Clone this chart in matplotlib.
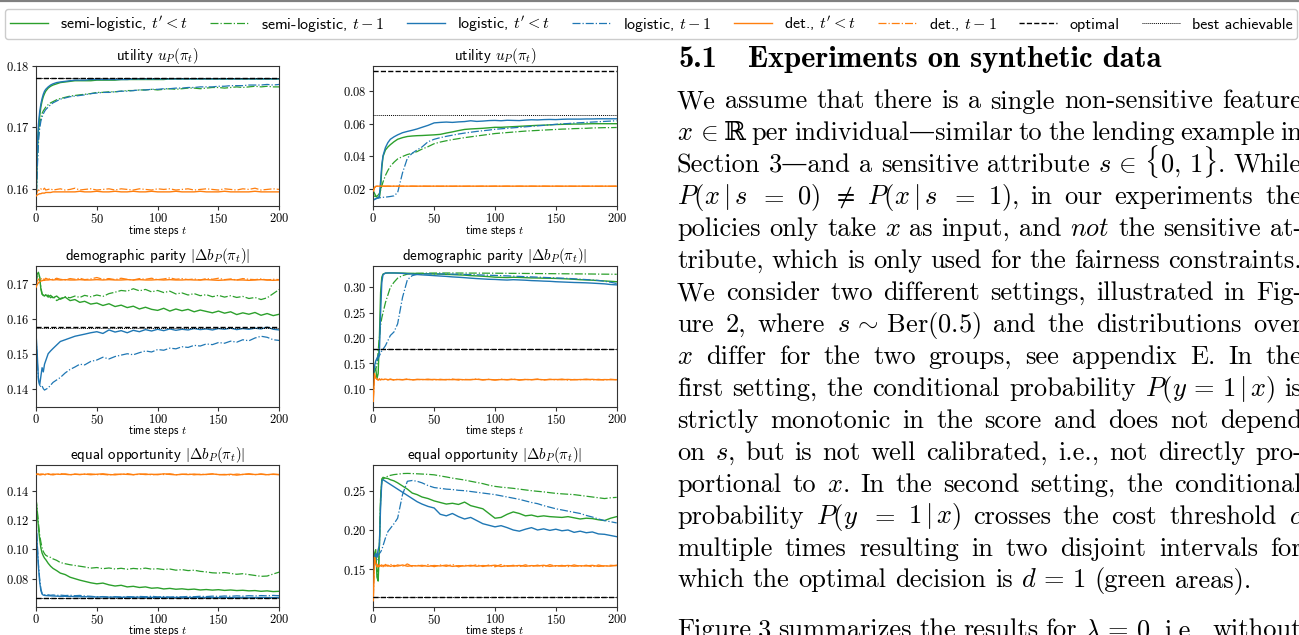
import matplotlib
matplotlib.use("Agg")
import matplotlib.pyplot as plt
import matplotlib.ticker as mticker
from matplotlib.transforms import IdentityTransform
from matplotlib.lines import Line2D

plt.rcParams["mathtext.fontset"] = "cm"
plt.rcParams["axes.formatter.use_mathtext"] = True
plt.rcParams["font.family"] = ["cmss10", "DejaVu Sans"]

# ---------------- data ----------------
T = [0, 1, 2, 3, 4, 5, 6, 7, 8, 10, 12, 14, 17, 20, 24, 28, 32, 36, 40,
     45, 50, 55, 60, 65, 70, 75, 80, 85, 90, 95, 100, 105, 110, 115, 120,
     125, 130, 135, 140, 145, 150, 155, 160, 165, 170, 175, 180, 185, 190,
     195, 200]

LABELS = [r"semi-logistic, $t' < t$", r"semi-logistic, $t-1$",
          r"logistic, $t' < t$", r"logistic, $t-1$",
          r"det., $t' < t$", r"det., $t-1$", "optimal", "best achievable"]

TITLES = [r"utility $u_P(\pi_t)$", r"utility $u_P(\pi_t)$",
          r"demographic parity $|\Delta b_P(\pi_t)|$", r"demographic parity $|\Delta b_P(\pi_t)|$",
          r"equal opportunity $|\Delta b_P(\pi_t)|$", r"equal opportunity $|\Delta b_P(\pi_t)|$"]
XLABEL = "time steps $t$"
XTICKS = [0, 50, 100, 150, 200]

# --- panel A: utility, setting 1
A_semi_cum = [0.1572, 0.1655, 0.1695, 0.1718, 0.1733, 0.1743, 0.1750, 0.1755, 0.1759, 0.1764,
              0.1767, 0.1769, 0.1771, 0.1773, 0.1774, 0.1775, 0.1776, 0.1776, 0.1776,
              0.1776, 0.1777, 0.1777, 0.1777, 0.1777, 0.1778, 0.1778, 0.1778,
              0.1778, 0.1778, 0.1778, 0.1778, 0.1778, 0.1779, 0.1779, 0.1779,
              0.1779, 0.1779, 0.1779, 0.1779, 0.1779, 0.1779, 0.1779, 0.1779,
              0.1779, 0.1779, 0.1779, 0.1779, 0.1779, 0.1779, 0.1779, 0.1779]
A_semi_last = [0.1572, 0.1640, 0.1685, 0.1705, 0.1716, 0.1723, 0.1727, 0.1730, 0.1733, 0.1737,
               0.1740, 0.1742, 0.1745, 0.1747, 0.1749, 0.1751, 0.1752, 0.1753, 0.1754,
               0.1755, 0.1757, 0.1757, 0.1758, 0.1758, 0.1759, 0.1760, 0.1760,
               0.1761, 0.1761, 0.1762, 0.1761, 0.1762, 0.1763, 0.1762, 0.1763,
               0.1764, 0.1764, 0.1763, 0.1764, 0.1765, 0.1765, 0.1764, 0.1765,
               0.1766, 0.1765, 0.1766, 0.1767, 0.1766, 0.1767, 0.1766, 0.1766]
A_log_cum = [0.1572, 0.1668, 0.1705, 0.1725, 0.1738, 0.1747, 0.1754, 0.1759, 0.1762, 0.1766,
             0.1769, 0.1771, 0.1773, 0.1774, 0.1775, 0.1776, 0.1777, 0.1777, 0.1777,
             0.1778, 0.1778, 0.1778, 0.1778, 0.1778, 0.1778, 0.1778, 0.1779,
             0.1779, 0.1779, 0.1779, 0.1779, 0.1779, 0.1779, 0.1779, 0.1779,
             0.1779, 0.1779, 0.1779, 0.1779, 0.1779, 0.1779, 0.1779, 0.1779,
             0.1779, 0.1779, 0.1779, 0.1779, 0.1779, 0.1779, 0.1779, 0.1779]
A_log_last = [0.1572, 0.1630, 0.1675, 0.1698, 0.1710, 0.1717, 0.1722, 0.1726, 0.1729, 0.1733,
              0.1737, 0.1740, 0.1743, 0.1746, 0.1748, 0.1750, 0.1751, 0.1752, 0.1753,
              0.1755, 0.1756, 0.1757, 0.1757, 0.1758, 0.1759, 0.1759, 0.1760,
              0.1761, 0.1761, 0.1762, 0.1762, 0.1763, 0.1763, 0.1764, 0.1764,
              0.1765, 0.1765, 0.1766, 0.1766, 0.1766, 0.1767, 0.1767, 0.1768,
              0.1768, 0.1768, 0.1769, 0.1769, 0.1769, 0.1770, 0.1769, 0.1770]
A_det_cum = [0.1588, 0.1590, 0.1591, 0.1592, 0.1592, 0.1593, 0.1593, 0.1593, 0.1594, 0.1594,
             0.1594, 0.1595, 0.1595, 0.1595, 0.1595, 0.1595, 0.1595, 0.1596, 0.1595,
             0.1595, 0.1596, 0.1595, 0.1595, 0.1596, 0.1595, 0.1595, 0.1596,
             0.1595, 0.1595, 0.1596, 0.1595, 0.1595, 0.1595, 0.1596, 0.1595,
             0.1595, 0.1595, 0.1596, 0.1595, 0.1595, 0.1595, 0.1596, 0.1595,
             0.1595, 0.1595, 0.1595, 0.1596, 0.1595, 0.1595, 0.1595, 0.1595]
A_det_last = [0.1588, 0.1596, 0.1598, 0.1597, 0.1600, 0.1598, 0.1599, 0.1601, 0.1598, 0.1599,
              0.1600, 0.1598, 0.1599, 0.1600, 0.1598, 0.1599, 0.1601, 0.1598, 0.1599,
              0.1600, 0.1598, 0.1599, 0.1600, 0.1598, 0.1600, 0.1599, 0.1598,
              0.1600, 0.1599, 0.1598, 0.1600, 0.1599, 0.1600, 0.1598, 0.1599,
              0.1600, 0.1598, 0.1599, 0.1600, 0.1599, 0.1598, 0.1600, 0.1599,
              0.1598, 0.1600, 0.1599, 0.1601, 0.1598, 0.1599, 0.1600, 0.1599]
A_opt = 0.1781
A_best = 0.1781

# --- panel B: utility, setting 2
B_semi_cum = [0.0190, 0.0175, 0.0160, 0.0152, 0.0148, 0.0150, 0.0200, 0.0330, 0.0400, 0.0440,
              0.0458, 0.0472, 0.0490, 0.0505, 0.0515, 0.0522, 0.0525, 0.0527, 0.0528,
              0.0530, 0.0532, 0.0535, 0.0543, 0.0550, 0.0558, 0.0565, 0.0568,
              0.0570, 0.0572, 0.0575, 0.0578, 0.0578, 0.0580, 0.0582, 0.0584,
              0.0586, 0.0588, 0.0590, 0.0591, 0.0593, 0.0595, 0.0596, 0.0597,
              0.0598, 0.0598, 0.0599, 0.0600, 0.0600, 0.0600, 0.0600, 0.0600]
B_semi_last = [0.0160, 0.0158, 0.0155, 0.0158, 0.0165, 0.0175, 0.0195, 0.0220, 0.0245, 0.0285,
               0.0315, 0.0340, 0.0365, 0.0385, 0.0400, 0.0412, 0.0420, 0.0430, 0.0445,
               0.0460, 0.0478, 0.0488, 0.0496, 0.0503, 0.0509, 0.0515, 0.0520,
               0.0525, 0.0530, 0.0535, 0.0540, 0.0543, 0.0546, 0.0549, 0.0552,
               0.0555, 0.0557, 0.0559, 0.0561, 0.0563, 0.0565, 0.0567, 0.0568,
               0.0570, 0.0571, 0.0572, 0.0574, 0.0575, 0.0576, 0.0576, 0.0577]
B_log_cum = [0.0135, 0.0138, 0.0142, 0.0145, 0.0148, 0.0160, 0.0250, 0.0350, 0.0405, 0.0455,
             0.0485, 0.0505, 0.0520, 0.0532, 0.0545, 0.0553, 0.0560, 0.0568, 0.0578,
             0.0590, 0.0605, 0.0608, 0.0610, 0.0608, 0.0611, 0.0613, 0.0618,
             0.0614, 0.0616, 0.0619, 0.0620, 0.0618, 0.0621, 0.0620, 0.0619,
             0.0622, 0.0624, 0.0623, 0.0625, 0.0626, 0.0625, 0.0627, 0.0628,
             0.0628, 0.0628, 0.0629, 0.0629, 0.0630, 0.0630, 0.0630, 0.0630]
B_log_last = [0.0135, 0.0138, 0.0142, 0.0145, 0.0147, 0.0148, 0.0149, 0.0150, 0.0151, 0.0152,
              0.0154, 0.0156, 0.0160, 0.0180, 0.0300, 0.0390, 0.0420, 0.0440, 0.0458,
              0.0490, 0.0505, 0.0515, 0.0523, 0.0530, 0.0537, 0.0543, 0.0548,
              0.0553, 0.0557, 0.0561, 0.0566, 0.0569, 0.0572, 0.0575, 0.0578,
              0.0581, 0.0584, 0.0587, 0.0590, 0.0593, 0.0596, 0.0599, 0.0601,
              0.0604, 0.0606, 0.0608, 0.0610, 0.0612, 0.0614, 0.0616, 0.0618]
B_det_cum = [0.0190, 0.0212, 0.0218, 0.0219, 0.0219, 0.0219, 0.0219, 0.0219, 0.0219, 0.0219,
             0.0219, 0.0219, 0.0219, 0.0219, 0.0219, 0.0219, 0.0219, 0.0219, 0.0219,
             0.0219, 0.0219, 0.0219, 0.0219, 0.0219, 0.0219, 0.0219, 0.0219,
             0.0219, 0.0219, 0.0219, 0.0219, 0.0219, 0.0219, 0.0219, 0.0219,
             0.0219, 0.0219, 0.0219, 0.0219, 0.0219, 0.0219, 0.0219, 0.0219,
             0.0219, 0.0219, 0.0219, 0.0219, 0.0219, 0.0219, 0.0219, 0.0219]
B_det_last = [0.0185, 0.0208, 0.0217, 0.0218, 0.0219, 0.0218, 0.0219, 0.0218, 0.0219, 0.0218,
              0.0219, 0.0218, 0.0219, 0.0218, 0.0219, 0.0218, 0.0219, 0.0218, 0.0219,
              0.0218, 0.0219, 0.0218, 0.0219, 0.0218, 0.0219, 0.0218, 0.0219,
              0.0218, 0.0219, 0.0218, 0.0219, 0.0218, 0.0219, 0.0218, 0.0219,
              0.0218, 0.0219, 0.0218, 0.0219, 0.0218, 0.0219, 0.0218, 0.0219,
              0.0218, 0.0219, 0.0218, 0.0219, 0.0218, 0.0219, 0.0218, 0.0219]
B_opt = 0.0924
B_best = 0.0651

# --- panel C: demographic parity, setting 1
C_semi_cum = [0.1700, 0.1728, 0.1733, 0.1720, 0.1685, 0.1670, 0.1668, 0.1665, 0.1669, 0.1662,
              0.1667, 0.1660, 0.1665, 0.1656, 0.1662, 0.1652, 0.1655, 0.1647, 0.1650,
              0.1642, 0.1645, 0.1638, 0.1643, 0.1635, 0.1639, 0.1632, 0.1636,
              0.1628, 0.1633, 0.1627, 0.1624, 0.1630, 0.1622, 0.1628, 0.1623,
              0.1627, 0.1620, 0.1625, 0.1621, 0.1617, 0.1622, 0.1616, 0.1620,
              0.1612, 0.1617, 0.1613, 0.1618, 0.1610, 0.1615, 0.1609, 0.1613]
C_semi_last = [0.1700, 0.1725, 0.1730, 0.1718, 0.1690, 0.1672, 0.1666, 0.1670, 0.1663, 0.1668,
               0.1660, 0.1665, 0.1652, 0.1658, 0.1663, 0.1660, 0.1665, 0.1661, 0.1667,
               0.1663, 0.1668, 0.1664, 0.1672, 0.1676, 0.1681, 0.1679, 0.1686,
               0.1680, 0.1684, 0.1677, 0.1681, 0.1675, 0.1679, 0.1671, 0.1674,
               0.1668, 0.1672, 0.1666, 0.1669, 0.1663, 0.1667, 0.1662, 0.1666,
               0.1661, 0.1664, 0.1658, 0.1661, 0.1655, 0.1660, 0.1672, 0.1684]
C_log_cum = [0.1560, 0.1500, 0.1425, 0.1410, 0.1435, 0.1460, 0.1448, 0.1470, 0.1480, 0.1500,
             0.1508, 0.1515, 0.1525, 0.1535, 0.1540, 0.1545, 0.1550, 0.1553, 0.1556,
             0.1560, 0.1563, 0.1558, 0.1568, 0.1562, 0.1566, 0.1560, 0.1567,
             0.1563, 0.1569, 0.1565, 0.1570, 0.1566, 0.1571, 0.1567, 0.1570,
             0.1568, 0.1572, 0.1569, 0.1571, 0.1568, 0.1572, 0.1570, 0.1573,
             0.1569, 0.1572, 0.1570, 0.1573, 0.1571, 0.1576, 0.1570, 0.1568]
C_log_last = [0.1550, 0.1480, 0.1430, 0.1412, 0.1405, 0.1408, 0.1400, 0.1396, 0.1398, 0.1402,
              0.1410, 0.1418, 0.1425, 0.1432, 0.1445, 0.1455, 0.1462, 0.1470, 0.1468,
              0.1478, 0.1482, 0.1490, 0.1485, 0.1492, 0.1496, 0.1500, 0.1497,
              0.1503, 0.1508, 0.1505, 0.1512, 0.1510, 0.1516, 0.1514, 0.1520,
              0.1518, 0.1524, 0.1522, 0.1528, 0.1526, 0.1532, 0.1530, 0.1536,
              0.1533, 0.1540, 0.1537, 0.1545, 0.1550, 0.1547, 0.1540, 0.1538]
C_det_cum = [0.1690, 0.1698, 0.1703, 0.1706, 0.1708, 0.1709, 0.1710, 0.1710, 0.1711, 0.1711,
             0.1712, 0.1711, 0.1712, 0.1711, 0.1712, 0.1711, 0.1711, 0.1712, 0.1711,
             0.1711, 0.1712, 0.1711, 0.1712, 0.1711, 0.1711, 0.1712, 0.1711,
             0.1712, 0.1711, 0.1711, 0.1712, 0.1711, 0.1712, 0.1711, 0.1711,
             0.1712, 0.1711, 0.1711, 0.1712, 0.1711, 0.1710, 0.1711, 0.1712,
             0.1711, 0.1711, 0.1710, 0.1711, 0.1712, 0.1711, 0.1710, 0.1711]
C_det_last = [0.1695, 0.1708, 0.1712, 0.1716, 0.1713, 0.1717, 0.1714, 0.1712, 0.1716, 0.1713,
              0.1715, 0.1712, 0.1716, 0.1713, 0.1711, 0.1715, 0.1713, 0.1716, 0.1712,
              0.1714, 0.1718, 0.1713, 0.1715, 0.1712, 0.1716, 0.1713, 0.1711,
              0.1715, 0.1713, 0.1716, 0.1712, 0.1714, 0.1717, 0.1713, 0.1715,
              0.1712, 0.1714, 0.1711, 0.1715, 0.1713, 0.1716, 0.1712, 0.1714,
              0.1711, 0.1715, 0.1713, 0.1712, 0.1714, 0.1711, 0.1713, 0.1712]
C_opt = 0.1576
C_best = 0.1575

# --- panel D: demographic parity, setting 2
D_semi_cum = [0.1300, 0.1350, 0.1400, 0.1200, 0.1300, 0.2000, 0.2900, 0.3200, 0.3260, 0.3280,
              0.3282, 0.3283, 0.3283, 0.3282, 0.3280, 0.3277, 0.3275, 0.3272, 0.3270,
              0.3267, 0.3263, 0.3260, 0.3255, 0.3250, 0.3245, 0.3240, 0.3230,
              0.3225, 0.3218, 0.3210, 0.3200, 0.3195, 0.3192, 0.3198, 0.3195,
              0.3190, 0.3185, 0.3183, 0.3180, 0.3178, 0.3175, 0.3170, 0.3165,
              0.3158, 0.3150, 0.3145, 0.3140, 0.3132, 0.3125, 0.3118, 0.3110]
D_semi_last = [0.1300, 0.1350, 0.1400, 0.1450, 0.1750, 0.2000, 0.2250, 0.2400, 0.2500, 0.2700,
               0.2850, 0.3000, 0.3100, 0.3180, 0.3230, 0.3260, 0.3270, 0.3276, 0.3278,
               0.3280, 0.3281, 0.3282, 0.3282, 0.3282, 0.3281, 0.3281, 0.3280,
               0.3280, 0.3279, 0.3278, 0.3278, 0.3277, 0.3276, 0.3275, 0.3274,
               0.3273, 0.3272, 0.3271, 0.3270, 0.3269, 0.3268, 0.3267, 0.3266,
               0.3265, 0.3264, 0.3263, 0.3262, 0.3260, 0.3259, 0.3258, 0.3257]
D_log_cum = [0.1300, 0.1450, 0.1550, 0.1600, 0.1650, 0.1700, 0.2500, 0.3100, 0.3250, 0.3280,
             0.3283, 0.3283, 0.3282, 0.3280, 0.3275, 0.3268, 0.3260, 0.3252, 0.3245,
             0.3238, 0.3230, 0.3222, 0.3215, 0.3205, 0.3198, 0.3190, 0.3180,
             0.3172, 0.3165, 0.3158, 0.3155, 0.3148, 0.3143, 0.3150, 0.3145,
             0.3140, 0.3132, 0.3128, 0.3122, 0.3118, 0.3110, 0.3105, 0.3100,
             0.3095, 0.3092, 0.3088, 0.3082, 0.3075, 0.3068, 0.3055, 0.3048]
D_log_last = [0.1300, 0.1400, 0.1500, 0.1550, 0.1600, 0.1650, 0.1700, 0.1750, 0.1780, 0.1850,
              0.1950, 0.2050, 0.2120, 0.2280, 0.2800, 0.3150, 0.3230, 0.3255, 0.3262,
              0.3265, 0.3265, 0.3264, 0.3262, 0.3260, 0.3257, 0.3254, 0.3250,
              0.3246, 0.3242, 0.3238, 0.3234, 0.3230, 0.3225, 0.3220, 0.3215,
              0.3210, 0.3205, 0.3200, 0.3195, 0.3190, 0.3185, 0.3180, 0.3175,
              0.3168, 0.3160, 0.3152, 0.3143, 0.3135, 0.3120, 0.3100, 0.3075]
D_det_cum = [0.0750, 0.1300, 0.1210, 0.1185, 0.1175, 0.1182, 0.1178, 0.1186, 0.1180, 0.1190,
             0.1178, 0.1184, 0.1176, 0.1182, 0.1179, 0.1185, 0.1177, 0.1181, 0.1183,
             0.1178, 0.1184, 0.1176, 0.1182, 0.1179, 0.1185, 0.1177, 0.1181,
             0.1186, 0.1178, 0.1183, 0.1175, 0.1181, 0.1179, 0.1184, 0.1176,
             0.1182, 0.1179, 0.1185, 0.1177, 0.1181, 0.1183, 0.1178, 0.1184,
             0.1176, 0.1182, 0.1179, 0.1185, 0.1174, 0.1181, 0.1178, 0.1180]
D_det_last = [0.0800, 0.1260, 0.1215, 0.1195, 0.1170, 0.1198, 0.1175, 0.1190, 0.1172, 0.1195,
              0.1174, 0.1191, 0.1170, 0.1188, 0.1176, 0.1193, 0.1171, 0.1186, 0.1178,
              0.1190, 0.1172, 0.1187, 0.1175, 0.1192, 0.1170, 0.1185, 0.1178,
              0.1193, 0.1173, 0.1186, 0.1171, 0.1189, 0.1176, 0.1192, 0.1170,
              0.1184, 0.1177, 0.1190, 0.1172, 0.1187, 0.1175, 0.1191, 0.1169,
              0.1183, 0.1178, 0.1190, 0.1173, 0.1186, 0.1171, 0.1188, 0.1176]
D_opt = 0.1776
D_best = 0.1776

# --- panel E: equal opportunity, setting 1
E_semi_cum = [0.1350, 0.1250, 0.1150, 0.1070, 0.1010, 0.0975, 0.0955, 0.0940, 0.0930, 0.0905,
              0.0885, 0.0870, 0.0855, 0.0838, 0.0828, 0.0810, 0.0800, 0.0790, 0.0782,
              0.0772, 0.0765, 0.0770, 0.0758, 0.0750, 0.0755, 0.0744, 0.0748,
              0.0740, 0.0744, 0.0735, 0.0738, 0.0730, 0.0734, 0.0728, 0.0731,
              0.0726, 0.0729, 0.0723, 0.0726, 0.0722, 0.0725, 0.0720, 0.0723,
              0.0719, 0.0721, 0.0717, 0.0719, 0.0714, 0.0717, 0.0712, 0.0714]
E_semi_last = [0.1350, 0.1270, 0.1180, 0.1100, 0.1050, 0.1010, 0.0985, 0.0970, 0.0960, 0.0950,
               0.0945, 0.0935, 0.0925, 0.0910, 0.0902, 0.0895, 0.0890, 0.0885, 0.0880,
               0.0872, 0.0876, 0.0868, 0.0873, 0.0866, 0.0871, 0.0864, 0.0870,
               0.0866, 0.0872, 0.0865, 0.0868, 0.0862, 0.0866, 0.0858, 0.0862,
               0.0855, 0.0858, 0.0850, 0.0846, 0.0840, 0.0838, 0.0842, 0.0836,
               0.0830, 0.0834, 0.0828, 0.0822, 0.0816, 0.0818, 0.0832, 0.0845]
E_log_cum = [0.1200, 0.1020, 0.0880, 0.0780, 0.0720, 0.0695, 0.0688, 0.0686, 0.0685, 0.0684,
             0.0683, 0.0682, 0.0681, 0.0680, 0.0680, 0.0679, 0.0678, 0.0677, 0.0677,
             0.0676, 0.0675, 0.0676, 0.0674, 0.0675, 0.0673, 0.0674, 0.0673,
             0.0674, 0.0672, 0.0673, 0.0672, 0.0673, 0.0671, 0.0672, 0.0672,
             0.0671, 0.0672, 0.0671, 0.0672, 0.0671, 0.0671, 0.0672, 0.0671,
             0.0671, 0.0672, 0.0671, 0.0671, 0.0672, 0.0671, 0.0671, 0.0672]
E_log_last = [0.1200, 0.1050, 0.0900, 0.0800, 0.0730, 0.0700, 0.0692, 0.0690, 0.0688, 0.0690,
              0.0687, 0.0689, 0.0686, 0.0688, 0.0685, 0.0687, 0.0684, 0.0686, 0.0682,
              0.0680, 0.0676, 0.0678, 0.0674, 0.0677, 0.0675, 0.0678, 0.0676,
              0.0679, 0.0677, 0.0680, 0.0676, 0.0678, 0.0675, 0.0677, 0.0676,
              0.0679, 0.0677, 0.0680, 0.0678, 0.0681, 0.0679, 0.0682, 0.0680,
              0.0683, 0.0681, 0.0684, 0.0682, 0.0685, 0.0683, 0.0686, 0.0684]
E_det_cum = [0.1510, 0.1515, 0.1511, 0.1508, 0.1514, 0.1510, 0.1513, 0.1509, 0.1512, 0.1515,
             0.1510, 0.1508, 0.1513, 0.1511, 0.1514, 0.1509, 0.1512, 0.1510, 0.1513,
             0.1509, 0.1512, 0.1515, 0.1510, 0.1508, 0.1513, 0.1511, 0.1509,
             0.1514, 0.1510, 0.1512, 0.1509, 0.1515, 0.1511, 0.1508, 0.1512,
             0.1510, 0.1513, 0.1509, 0.1511, 0.1514, 0.1510, 0.1508, 0.1512,
             0.1506, 0.1511, 0.1515, 0.1510, 0.1512, 0.1509, 0.1513, 0.1510]
E_det_last = [0.1512, 0.1509, 0.1514, 0.1511, 0.1507, 0.1513, 0.1510, 0.1515, 0.1508, 0.1512,
              0.1510, 0.1514, 0.1509, 0.1516, 0.1511, 0.1508, 0.1513, 0.1510, 0.1512,
              0.1514, 0.1509, 0.1511, 0.1507, 0.1513, 0.1510, 0.1516, 0.1509,
              0.1511, 0.1514, 0.1508, 0.1512, 0.1510, 0.1515, 0.1509, 0.1511,
              0.1513, 0.1508, 0.1512, 0.1510, 0.1514, 0.1509, 0.1511, 0.1507,
              0.1513, 0.1510, 0.1512, 0.1509, 0.1514, 0.1508, 0.1511, 0.1509]
E_opt = 0.0666
E_best = 0.0666

# --- panel F: equal opportunity, setting 2
F_semi_cum = [0.1500, 0.1700, 0.1750, 0.1400, 0.1350, 0.1800, 0.2400, 0.2650, 0.2670, 0.2660,
              0.2655, 0.2640, 0.2625, 0.2600, 0.2560, 0.2520, 0.2470, 0.2450, 0.2420,
              0.2400, 0.2370, 0.2350, 0.2330, 0.2340, 0.2325, 0.2355, 0.2310,
              0.2290, 0.2270, 0.2210, 0.2150, 0.2160, 0.2200, 0.2230, 0.2210,
              0.2180, 0.2190, 0.2170, 0.2180, 0.2170, 0.2165, 0.2160, 0.2170,
              0.2155, 0.2140, 0.2150, 0.2145, 0.2130, 0.2120, 0.2150, 0.2170]
F_semi_last = [0.1500, 0.1650, 0.1700, 0.1500, 0.1400, 0.1800, 0.2400, 0.2620, 0.2650, 0.2670,
               0.2685, 0.2695, 0.2705, 0.2710, 0.2718, 0.2720, 0.2718, 0.2715, 0.2712,
               0.2708, 0.2702, 0.2688, 0.2675, 0.2660, 0.2648, 0.2636, 0.2620,
               0.2605, 0.2590, 0.2570, 0.2555, 0.2545, 0.2538, 0.2530, 0.2520,
               0.2510, 0.2500, 0.2492, 0.2485, 0.2475, 0.2466, 0.2460, 0.2455,
               0.2450, 0.2440, 0.2430, 0.2420, 0.2410, 0.2400, 0.2410, 0.2415]
F_log_cum = [0.1500, 0.1650, 0.1700, 0.1650, 0.1750, 0.1800, 0.2300, 0.2620, 0.2640, 0.2620,
             0.2600, 0.2580, 0.2550, 0.2520, 0.2480, 0.2440, 0.2400, 0.2360, 0.2330,
             0.2300, 0.2280, 0.2200, 0.2180, 0.2210, 0.2170, 0.2140, 0.2160,
             0.2120, 0.2080, 0.2060, 0.2040, 0.2055, 0.2030, 0.2000, 0.1985,
             0.2010, 0.2030, 0.2000, 0.2015, 0.1995, 0.2010, 0.1990, 0.2000,
             0.1970, 0.1985, 0.1965, 0.1975, 0.1950, 0.1945, 0.1930, 0.1915]
F_log_last = [0.1500, 0.1550, 0.1600, 0.1620, 0.1680, 0.1700, 0.1720, 0.1750, 0.1800, 0.1900,
              0.1980, 0.2020, 0.2080, 0.2150, 0.2450, 0.2620, 0.2630, 0.2620, 0.2600,
              0.2565, 0.2540, 0.2530, 0.2520, 0.2515, 0.2505, 0.2500, 0.2490,
              0.2480, 0.2470, 0.2460, 0.2450, 0.2435, 0.2420, 0.2405, 0.2390,
              0.2370, 0.2350, 0.2335, 0.2310, 0.2290, 0.2270, 0.2255, 0.2240,
              0.2225, 0.2210, 0.2185, 0.2165, 0.2140, 0.2120, 0.2105, 0.2090]
F_det_cum = [0.1100, 0.1650, 0.1580, 0.1530, 0.1545, 0.1535, 0.1548, 0.1538, 0.1550, 0.1542,
             0.1552, 0.1537, 0.1549, 0.1541, 0.1555, 0.1539, 0.1546, 0.1543, 0.1550,
             0.1538, 0.1548, 0.1542, 0.1553, 0.1537, 0.1546, 0.1541, 0.1550,
             0.1539, 0.1547, 0.1543, 0.1552, 0.1536, 0.1545, 0.1541, 0.1549,
             0.1538, 0.1547, 0.1542, 0.1551, 0.1537, 0.1546, 0.1540, 0.1549,
             0.1539, 0.1545, 0.1542, 0.1550, 0.1537, 0.1544, 0.1540, 0.1552]
F_det_last = [0.1150, 0.1600, 0.1555, 0.1565, 0.1530, 0.1560, 0.1535, 0.1558, 0.1532, 0.1562,
              0.1538, 0.1565, 0.1534, 0.1556, 0.1540, 0.1568, 0.1535, 0.1553, 0.1538,
              0.1560, 0.1533, 0.1555, 0.1537, 0.1562, 0.1531, 0.1552, 0.1540,
              0.1558, 0.1535, 0.1554, 0.1532, 0.1560, 0.1538, 0.1551, 0.1534,
              0.1557, 0.1536, 0.1553, 0.1531, 0.1559, 0.1539, 0.1550, 0.1533,
              0.1556, 0.1537, 0.1552, 0.1530, 0.1555, 0.1538, 0.1551, 0.1545]
F_opt = 0.1153
F_best = 0.1153

# ---------------- text of the page ----------------
HEAD_NUM = "5.1"
HEAD_TITLE = "Experiments on synthetic data"
BODY_LINES = [
    "We assume that there is a single non-sensitive feature",
    "$x\\,\\in$ ℝ per individual—similar to the lending example in",
    "Section 3—and a sensitive attribute $s\\,\\in\\,\\{0,\\,1\\}$. While",
    "$P(x\\,|\\,s$ $=$ $0)$ $\\neq$ $P(x\\,|\\,s$ $=$ $1)$, in our experiments the",
    "policies only take $x$ as input, and $\\mathit{not}$ the sensitive at-",
    "tribute, which is only used for the fairness constraints.",
    "We consider two different settings, illustrated in Fig-",
    "ure 2, where $s\\,\\sim\\,\\mathrm{Ber}(0.5)$ and the distributions over",
    "$x$ differ for the two groups, see appendix E. In the",
    "first setting, the conditional probability $P(y\\,=\\,1\\,|\\,x)$ is",
    "strictly monotonic in the score and does not depend",
    "on $s$, but is not well calibrated, i.e., not directly pro-",
    "portional to $x$. In the second setting, the conditional",
    "probability $P(y$ $=$ $1\\,|\\,x)$ crosses the cost threshold $c$",
    "multiple times resulting in two disjoint intervals for",
    "which the optimal decision is $d\\,=\\,1$ (green areas).",
]
NEXT_LINE = "Figure 3 summarizes the results for $\\lambda\\,=\\,0$, i.e., without"

# ---------------- figure ----------------
W, H = 1299, 635
fig = plt.figure(figsize=(W / 100, H / 100), dpi=100)


def rect(x0, x1, yt, yb):
    return [x0 / W, 1 - yb / H, (x1 - x0) / W, (yb - yt) / H]


STYLES = [("#2ca02c", "-", 1.0), ("#2ca02c", "-.", 0.9),
          ("#1f77b4", "-", 1.0), ("#1f77b4", "-.", 0.9),
          ("#ff7f0e", "-", 1.0), ("#ff7f0e", "-.", 0.9)]
ZORD = [2.2, 2.1, 2.4, 2.3, 2.6, 2.5]

panels = [
    (rect(36, 279.3, 66, 206), [A_semi_cum, A_semi_last, A_log_cum, A_log_last, A_det_cum, A_det_last],
     A_opt, A_best, (0.1572, 0.1800), [0.16, 0.17, 0.18]),
    (rect(373.3, 616.7, 66, 206), [B_semi_cum, B_semi_last, B_log_cum, B_log_last, B_det_cum, B_det_last],
     B_opt, B_best, (0.0098, 0.0952), [0.02, 0.04, 0.06, 0.08]),
    (rect(36, 279.3, 266, 406.5), [C_semi_cum, C_semi_last, C_log_cum, C_log_last, C_det_cum, C_det_last],
     C_opt, C_best, (0.1349, 0.1751), [0.14, 0.15, 0.16, 0.17]),
    (rect(373.3, 616.7, 266, 406.5), [D_semi_cum, D_semi_last, D_log_cum, D_log_last, D_det_cum, D_det_last],
     D_opt, D_best, (0.065, 0.342), [0.10, 0.15, 0.20, 0.25, 0.30]),
    (rect(36, 279.3, 465, 606.7), [E_semi_cum, E_semi_last, E_log_cum, E_log_last, E_det_cum, E_det_last],
     E_opt, E_best, (0.0609, 0.1575), [0.08, 0.10, 0.12, 0.14]),
    (rect(373.3, 616.7, 465, 606.7), [F_semi_cum, F_semi_last, F_log_cum, F_log_last, F_det_cum, F_det_last],
     F_opt, F_best, (0.1024, 0.2827), [0.15, 0.20, 0.25]),
]

handles = None
for (r, series, opt, best, ylim, yticks), title in zip(panels, TITLES):
    ax = fig.add_axes(r)
    hs = []
    for y, (c, ls, lw), z in zip(series, STYLES, ZORD):
        h, = ax.plot(T, y, color=c, ls=ls, lw=lw, zorder=z)
        hs.append(h)
    hs.append(ax.axhline(opt, color="k", ls="--", lw=1.0, zorder=3))
    hs.append(ax.axhline(best, color="k", ls=(0, (1, 1)), lw=0.7, zorder=3))
    if handles is None:
        handles = hs
    ax.set_xlim(0, 200)
    ax.set_ylim(*ylim)
    ax.set_xticks(XTICKS)
    ax.set_yticks(yticks)
    ax.xaxis.set_major_formatter(mticker.FuncFormatter(lambda v, _: f"${v:.0f}$"))
    ax.yaxis.set_major_formatter(mticker.FuncFormatter(lambda v, _: f"${v:.2f}$"))
    ax.tick_params(labelsize=9, length=3, width=0.8, pad=1.5, color="#333333")
    for s in ax.spines.values():
        s.set_linewidth(0.8)
        s.set_color("#333333")
    ax.set_title(title, fontsize=10.8, pad=3)
    ax.set_xlabel(XLABEL, fontsize=8.4, labelpad=-2.5)

leg = fig.legend(handles, LABELS, loc="upper left", bbox_to_anchor=(5 / W, 1 - 9 / H),
                 bbox_transform=fig.transFigure, ncol=8, fontsize=11.5,
                 handlelength=2.4, handletextpad=0.75, columnspacing=1.4,
                 borderpad=0.3, borderaxespad=0, frameon=True, fancybox=True,
                 edgecolor="#cccccc", framealpha=1)
leg.get_frame().set_linewidth(1.0)

fig.add_artist(Line2D([0, 1], [1 - 0.8 / H, 1 - 0.8 / H], transform=fig.transFigure,
                      color="#808080", lw=1.6))

# ---------------- text block ----------------
fig.canvas.draw()
renderer = fig.canvas.get_renderer()
ident = IdentityTransform()
BODY_FAMILY = ["cmr10", "DejaVu Serif"]
BODY_FS = 19.0
EM = BODY_FS * 100 / 72
X_LEFT = 677.0
X_RIGHT = 1302.0


def place_line(line, y_top, justify):
    tokens = line.split(" ")
    arts = [fig.text(0, 0, tok, transform=ident, fontsize=BODY_FS, family=BODY_FAMILY,
                     va="baseline", ha="left") for tok in tokens]
    widths = [a.get_window_extent(renderer).width for a in arts]
    gap = EM * 0.333
    if justify and len(arts) > 1:
        gap = max((X_RIGHT - X_LEFT - sum(widths)) / (len(arts) - 1), EM * 0.222)
    x = X_LEFT
    for a, w in zip(arts, widths):
        a.set_position((x, H - y_top))
        x += w + gap


fig.text(678, H - 67, HEAD_NUM, transform=ident, fontsize=22, family=["cmb10", "DejaVu Serif"],
         va="baseline", ha="left")
fig.text(748, H - 67, HEAD_TITLE, transform=ident, fontsize=22, family=["cmb10", "DejaVu Serif"],
         va="baseline", ha="left")

PITCH = 31.93
for i, line in enumerate(BODY_LINES):
    place_line(line, 108.5 + PITCH * i, justify=(i < len(BODY_LINES) - 1))
place_line(NEXT_LINE, 108.5 + PITCH * 15 + 50.0, justify=True)

fig.savefig("out.png", dpi=100)
